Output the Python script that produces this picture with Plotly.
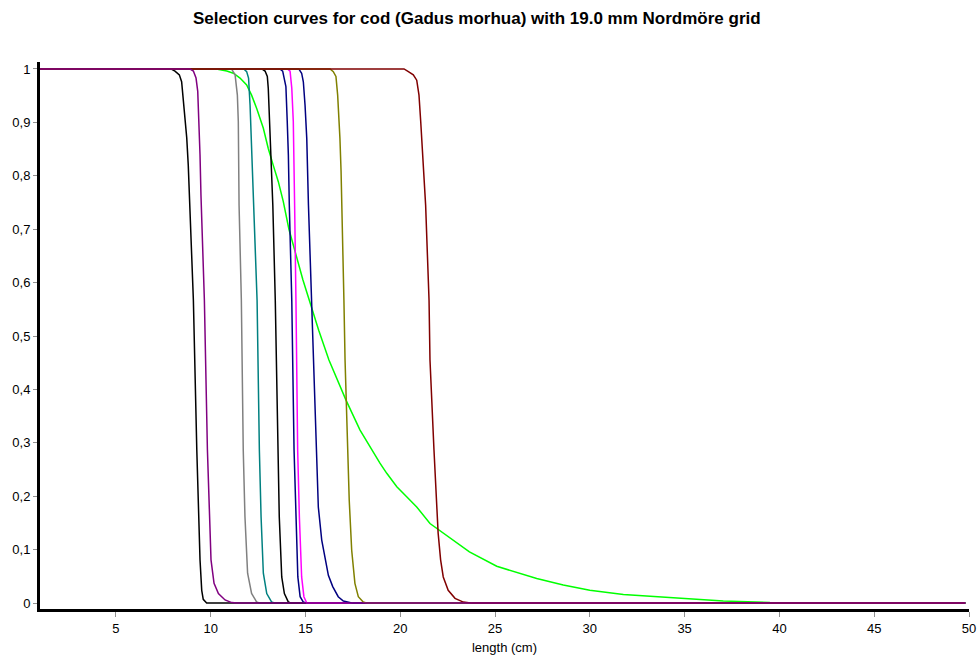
import plotly.graph_objects as go

# ---- data (length in cm, retention probability) ----
black1_len = [1, 7.9, 8.12, 8.35, 8.47, 8.56, 8.65, 8.74, 8.82, 8.91, 9.09, 9.27, 9.35, 9.44, 9.53, 9.61, 9.79, 49.8]
black1_p   = [1, 1, 0.996, 0.989, 0.976, 0.945, 0.914, 0.871, 0.82, 0.745, 0.567, 0.287, 0.162, 0.081, 0.024, 0.007, 0, 0]

purple_len = [1, 8.9, 9.09, 9.23, 9.32, 9.39, 9.44, 9.49, 9.67, 9.83, 9.93, 10.02, 10.18, 10.41, 10.76, 11.11, 11.4, 49.8]
purple_p   = [1, 1, 0.996, 0.983, 0.958, 0.902, 0.839, 0.764, 0.567, 0.287, 0.162, 0.081, 0.037, 0.018, 0.006, 0.001, 0, 0]

gray_len = [1, 11.1, 11.29, 11.41, 11.46, 11.5, 11.62, 11.72, 11.81, 11.95, 12.16, 12.43, 12.6, 49.8]
gray_p   = [1, 1, 0.989, 0.951, 0.901, 0.745, 0.567, 0.287, 0.162, 0.056, 0.018, 0.002, 0, 0]

teal_len = [1, 11.75, 11.9, 12.0, 12.08, 12.17, 12.29, 12.45, 12.57, 12.66, 12.78, 12.96, 13.22, 13.4, 49.8]
teal_p   = [1, 1, 0.995, 0.983, 0.932, 0.839, 0.745, 0.567, 0.287, 0.162, 0.056, 0.018, 0.002, 0, 0]

black2_len = [1, 12.7, 12.87, 12.99, 13.04, 13.1, 13.17, 13.28, 13.41, 13.54, 13.62, 13.75, 13.89, 14.1, 14.25, 49.8]
black2_p   = [1, 1, 0.996, 0.986, 0.964, 0.902, 0.839, 0.745, 0.567, 0.287, 0.162, 0.049, 0.018, 0.002, 0, 0]

navy1_len = [1, 13.65, 13.8, 13.92, 13.97, 14.04, 14.1, 14.15, 14.28, 14.4, 14.49, 14.6, 14.72, 14.89, 15.05, 49.8]
navy1_p   = [1, 1, 0.996, 0.976, 0.967, 0.902, 0.839, 0.745, 0.567, 0.287, 0.162, 0.049, 0.012, 0.002, 0, 0]

magenta_len = [1, 14.05, 14.19, 14.28, 14.36, 14.4, 14.43, 14.5, 14.59, 14.68, 14.8, 14.92, 15.07, 49.8]
magenta_p   = [1, 1, 0.996, 0.964, 0.902, 0.839, 0.745, 0.567, 0.287, 0.162, 0.049, 0.012, 0, 0]

navy2_len = [1, 14.65, 14.8, 14.89, 14.98, 15.07, 15.16, 15.33, 15.42, 15.56, 15.68, 15.86, 16.03, 16.21, 16.44, 16.73, 17.0, 17.5, 49.8]
navy2_p   = [1, 1, 0.992, 0.976, 0.932, 0.87, 0.745, 0.567, 0.455, 0.287, 0.18, 0.118, 0.087, 0.052, 0.031, 0.012, 0.004, 0, 0]

olive_len = [1, 16.3, 16.47, 16.61, 16.7, 16.77, 16.82, 16.88, 16.91, 17.03, 17.09, 17.21, 17.31, 17.44, 17.61, 17.79, 18.05, 18.26, 49.8]
olive_p   = [1, 1, 0.995, 0.986, 0.951, 0.914, 0.87, 0.808, 0.745, 0.567, 0.455, 0.287, 0.193, 0.099, 0.037, 0.012, 0.002, 0, 0]

maroon_len = [1, 20.2, 20.43, 20.69, 20.87, 20.99, 21.08, 21.19, 21.34, 21.52, 21.57, 21.78, 21.92, 22.0, 22.13, 22.27, 22.53, 22.89, 23.33, 23.8, 49.8]
maroon_p   = [1, 1, 0.995, 0.989, 0.979, 0.951, 0.902, 0.839, 0.745, 0.567, 0.455, 0.287, 0.193, 0.131, 0.081, 0.049, 0.024, 0.009, 0.002, 0, 0]

green_len = [1, 10.3, 10.85, 11.2, 11.55, 11.9, 12.16, 12.43, 12.78, 13.04, 13.3, 13.57, 13.83, 14.13, 14.87, 15.7, 16.24, 17.14, 17.88,
             18.5, 18.93, 19.29, 19.82, 20.34, 20.87, 21.57, 22.27, 22.98, 23.65, 25.09, 27.2, 28.6, 30.0, 31.77, 34.23,
             35.64, 37.04, 39.5, 44.7, 49.8]
green_p   = [1, 1, 0.996, 0.992, 0.983, 0.97, 0.951, 0.926, 0.889, 0.851, 0.82, 0.789, 0.752, 0.7, 0.605, 0.511, 0.455, 0.38, 0.324,
             0.287, 0.262, 0.243, 0.218, 0.199, 0.18, 0.149, 0.131, 0.112, 0.096, 0.069, 0.046, 0.034, 0.024, 0.016, 0.011,
             0.007, 0.004, 0.0013, 0.001, 0]

y_ticks = [0, 0.1, 0.2, 0.3, 0.4, 0.5, 0.6, 0.7, 0.8, 0.9, 1]
y_tick_labels = ["0", "0,1", "0,2", "0,3", "0,4", "0,5", "0,6", "0,7", "0,8", "0,9", "1"]
x_ticks = [5, 10, 15, 20, 25, 30, 35, 40, 45, 50]

series = [
    (green_len, green_p, "#00FF00"),
    (gray_len, gray_p, "#808080"),
    (teal_len, teal_p, "#008080"),
    (black1_len, black1_p, "#000000"),
    (black2_len, black2_p, "#000000"),
    (navy1_len, navy1_p, "#000080"),
    (magenta_len, magenta_p, "#FF00FF"),
    (navy2_len, navy2_p, "#000080"),
    (olive_len, olive_p, "#808000"),
    (maroon_len, maroon_p, "#800000"),
    (purple_len, purple_p, "#800080"),
]

fig = go.Figure()
for xs, ys, col in series:
    fig.add_trace(go.Scatter(x=xs, y=ys, mode="lines",
                             line=dict(color=col, width=1.5),
                             showlegend=False, hoverinfo="skip"))

FONT = "Liberation Sans, Arial, sans-serif"
fig.update_layout(
    width=979, height=655,
    margin=dict(l=40, r=10, t=62, b=46, autoexpand=False),
    paper_bgcolor="white", plot_bgcolor="white",
    font=dict(family=FONT, size=13, color="#000000"),
    title=dict(text="<b>Selection curves for cod (Gadus morhua) with 19.0 mm Nordmöre grid</b>",
               x=0.487, xanchor="center", y=0.973, yanchor="middle",
               font=dict(size=17, family=FONT, color="#000000")),
    showlegend=False,
)
fig.update_xaxes(
    range=[1, 50], tickvals=x_ticks, showgrid=False, zeroline=False, automargin=False,
    showline=True, linecolor="#000000", linewidth=3,
    ticks="outside", ticklen=5, tickcolor="#909090", tickwidth=1,
    title=dict(text="length (cm)", font=dict(size=13)),
    tickfont=dict(size=13),
)
fig.update_yaxes(
    range=[-0.011, 1.013], tickvals=y_ticks, ticktext=y_tick_labels,
    showgrid=False, zeroline=False, automargin=False,
    showline=True, linecolor="#000000", linewidth=3,
    ticks="outside", ticklen=4, tickcolor="#909090", tickwidth=1,
    tickfont=dict(size=13),
)

fig.write_html("out.html")
